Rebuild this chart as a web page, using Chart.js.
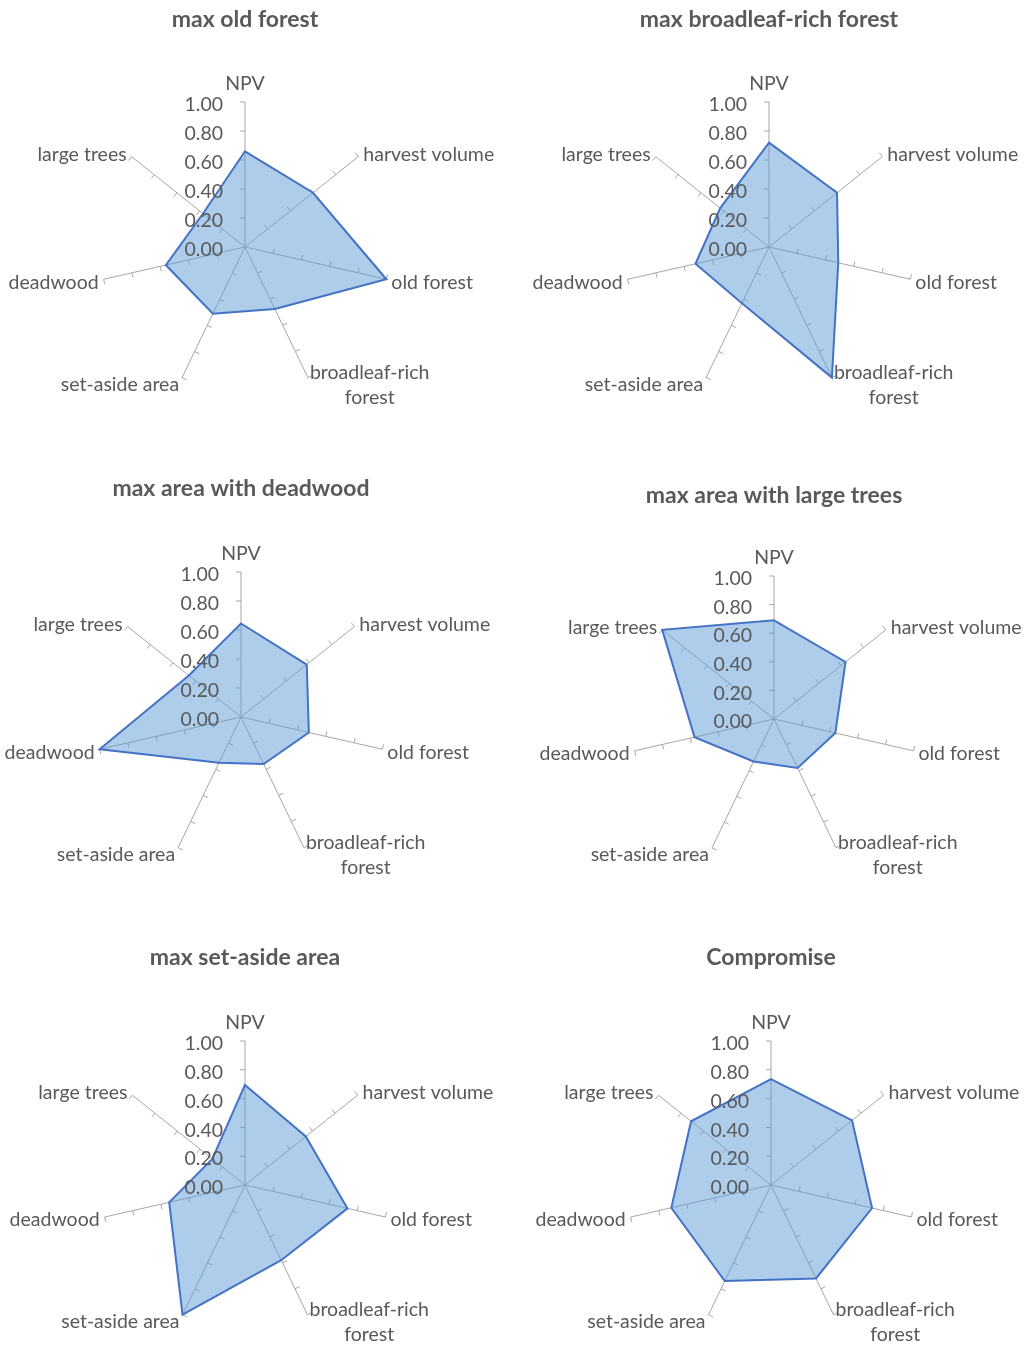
<!DOCTYPE html>
<html>
<head>
<meta charset="utf-8">
<script src="https://cdn.jsdelivr.net/npm/chart.js@4/dist/chart.umd.min.js"></script>
<style>
  html, body { margin: 0; padding: 0; background: #fff; }
  #page { position: relative; width: 1024px; height: 1349px; }
  .panel { position: absolute; width: 512px; height: 469px; }
</style>
</head>
<body>
<div id="page"></div>
<script>
// axis categories (the last-but-three label wraps on two lines like the original)
const categories = ['NPV', 'harvest volume', 'old forest', ['broadleaf-rich', 'forest'], 'set-aside area', 'deadwood', 'large trees'];
const tickValues = [0, 0.2, 0.4, 0.6, 0.8, 1.0];
const tickLabels = ['0.00', '0.20', '0.40', '0.60', '0.80', '1.00'];

// one series per scenario, in the order of the categories above
const maxOldForest      = [0.66, 0.60, 1.00, 0.475, 0.51, 0.56, 0.37];
const maxBroadleafRich  = [0.72, 0.60, 0.49, 1.00, 0.43, 0.52, 0.43];
const maxDeadwood       = [0.645, 0.58, 0.48, 0.36, 0.35, 1.00, 0.46];
const maxLargeTrees     = [0.69, 0.64, 0.44, 0.38, 0.33, 0.57, 1.00];
const maxSetAside       = [0.695, 0.54, 0.73, 0.58, 1.00, 0.54, 0.29];
const compromise        = [0.735, 0.72, 0.72, 0.72, 0.74, 0.71, 0.71];

const titles = ['max old forest', 'max broadleaf-rich forest', 'max area with deadwood',
                'max area with large trees', 'max set-aside area', 'Compromise'];
const series = [maxOldForest, maxBroadleafRich, maxDeadwood, maxLargeTrees, maxSetAside, compromise];

// where each panel sits on the page (centre + radius are local to the panel)
const panels = [
    { left: 0,   top: 0,   cx: 245, cy: 248, r: 145, titleY: 20 },
    { left: 512, top: 0,   cx: 257, cy: 248, r: 145, titleY: 20 },
    { left: 0,   top: 469, cx: 241, cy: 249, r: 145, titleY: 20 },
    { left: 512, top: 469, cx: 262, cy: 251, r: 143, titleY: 27 },
    { left: 0,   top: 938, cx: 245, cy: 248, r: 144, titleY: 20 },
    { left: 512, top: 938, cx: 259, cy: 248, r: 144, titleY: 20 },
];

const TEXT = '#595959';
const AXIS = '#a6a6a6';
const FONT = 'Lato, "Open Sans", sans-serif';
const LABEL_SIZE = 19.5;
const TITLE_SIZE = 23;

// draws the Excel-like tick marks, tick labels and axis labels
const excelRadarDecor = {
    id: 'excelRadarDecor',
    beforeDatasetsDraw(chart) {
        const scale = chart.scales.r;
        const ctx = chart.ctx;
        ctx.save();
        ctx.strokeStyle = AXIS;
        ctx.lineWidth = 1;
        for (let i = 0; i < categories.length; i++) {
            tickValues.forEach((v) => {
                if (v === 0) return;
                const p = scale.getPointPosition(i, scale.getDistanceFromCenterForValue(v));
                const dx = Math.cos(p.angle), dy = Math.sin(p.angle);
                ctx.beginPath();
                ctx.moveTo(p.x, p.y);
                ctx.lineTo(p.x + dy * 5, p.y - dx * 5);
                ctx.stroke();
            });
        }
        ctx.restore();
    },
    afterDatasetsDraw(chart) {
        const scale = chart.scales.r;
        const ctx = chart.ctx;
        ctx.save();
        ctx.fillStyle = TEXT;
        ctx.font = LABEL_SIZE + 'px ' + FONT;

        // tick labels along the first axis
        ctx.textAlign = 'right';
        ctx.textBaseline = 'middle';
        tickValues.forEach((v, k) => {
            const p = scale.getPointPosition(0, scale.getDistanceFromCenterForValue(v));
            ctx.fillText(tickLabels[k], p.x - 22, p.y + 3);
        });

        // axis labels
        for (let i = 0; i < categories.length; i++) {
            const end = scale.getPointPosition(i, scale.drawingArea);
            const lines = [].concat(categories[i]);
            const deg = i * 360 / categories.length;
            if (deg === 0) {
                ctx.textAlign = 'center';
                ctx.fillText(lines[0], end.x, end.y - 18);
            } else if (lines.length > 1) {
                const w = Math.max(...lines.map((t) => ctx.measureText(t).width));
                ctx.textAlign = 'center';
                lines.forEach((t, k) => ctx.fillText(t, end.x + 2 + w / 2, end.y - 5 + k * 25));
            } else if (deg < 180) {
                ctx.textAlign = 'left';
                ctx.fillText(lines[0], end.x + 5, end.y + (deg < 90 ? -2 : 3));
            } else {
                ctx.textAlign = 'right';
                const dy = deg < 240 ? 7 : (deg < 270 ? 3 : -2);
                ctx.fillText(lines[0], end.x - (deg < 240 ? 3 : 5), end.y + dy);
            }
        }
        ctx.restore();
    }
};

function createRadar(idx) {
    const pos = panels[idx];
    const box = document.createElement('div');
    box.className = 'panel';
    box.style.left = pos.left + 'px';
    box.style.top = pos.top + 'px';
    const canvas = document.createElement('canvas');
    box.appendChild(canvas);
    document.getElementById('page').appendChild(box);

    const lineH = Math.round(TITLE_SIZE * 1.2);
    const padTop = pos.titleY - lineH / 2;
    const padBottom = pos.cy - pos.r - lineH - padTop;

    new Chart(canvas.getContext('2d'), {
        type: 'radar',
        data: {
            labels: categories,
            datasets: [{
                label: titles[idx],
                data: series[idx],
                backgroundColor: 'rgba(91, 155, 213, 0.5)',
                borderColor: '#4472c4',
                borderWidth: 2,
                pointRadius: 0,
                pointHoverRadius: 0,
                tension: 0,
            }],
        },
        options: {
            responsive: true,
            maintainAspectRatio: false,
            animation: false,
            layout: {
                padding: {
                    left: pos.cx - pos.r,
                    right: 512 - pos.cx - pos.r,
                    top: 0,
                    bottom: 469 - pos.cy - pos.r,
                },
            },
            plugins: {
                legend: { display: false },
                tooltip: { enabled: false },
                title: {
                    display: true,
                    text: titles[idx],
                    color: TEXT,
                    font: { family: FONT, size: TITLE_SIZE, weight: 'bold', lineHeight: 1.2 },
                    padding: { top: padTop, bottom: padBottom },
                },
            },
            scales: {
                r: {
                    min: 0,
                    max: 1,
                    ticks: { display: false, stepSize: 0.2 },
                    grid: { display: false },
                    angleLines: { display: true, color: AXIS, lineWidth: 1 },
                    pointLabels: { display: false },
                },
            },
        },
        plugins: [excelRadarDecor],
    });
}

for (let i = 0; i < panels.length; i++) {
    createRadar(i);
}
</script>
</body>
</html>
